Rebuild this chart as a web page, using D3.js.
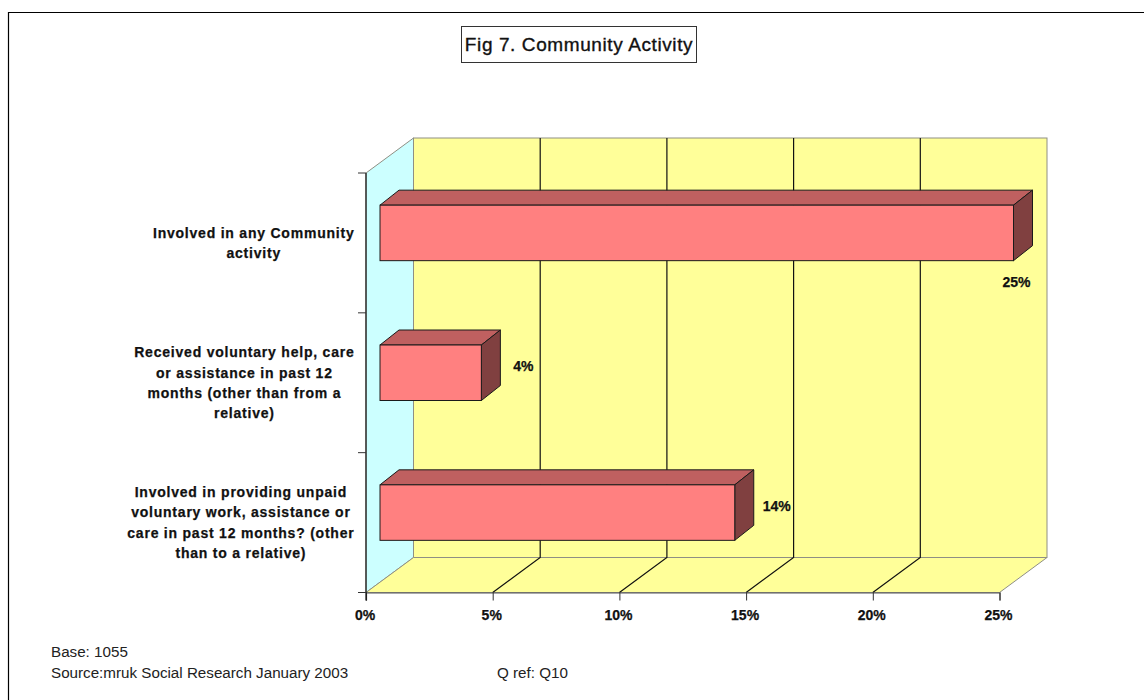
<!DOCTYPE html>
<html>
<head>
<meta charset="utf-8">
<script src="https://cdn.jsdelivr.net/npm/d3@7"></script>
<style>
  html, body { margin: 0; padding: 0; background: #fff; }
  svg { display: block; }
  text { font-family: "Liberation Sans", Arial, sans-serif; fill: #111; }
  .cat, .val, .tick-label { font-weight: bold; font-size: 14px; stroke: #111; stroke-width: 0.25px; }
  .cat { letter-spacing: 0.78px; }
  .note { font-size: 15.2px; fill: #222; }
</style>
</head>
<body>
<svg id="chart" width="1144" height="700"></svg>
<script>
// Survey results, in percent
const categories = [
  "Involved in any Community activity",
  "Received voluntary help, care or assistance in past 12 months (other than from a relative)",
  "Involved in providing unpaid voluntary work, assistance or care in past 12 months? (other than to a relative)"
];
const values = [25, 4, 14];
const categoryLines = [
  ["Involved in any Community", "activity"],
  ["Received voluntary help, care", "or assistance in past 12", "months (other than from a", "relative)"],
  ["Involved in providing unpaid", "voluntary work, assistance or", "care in past 12 months? (other", "than to a relative)"]
];
const xTicks = [0, 5, 10, 15, 20, 25];
const valueLabels = ["25%", "4%", "14%"];
const chartTitle = "Fig 7. Community Activity";
const footnotes = ["Base: 1055", "Source:mruk Social Research January 2003"];
const questionRef = "Q ref: Q10";

const svg = d3.select("#chart");

// Plot box with an oblique depth for the back walls
const plot = { left: 366, right: 999.5, top: 173, bottom: 592.5 };
const depth = { x: 47.5, y: -35 };
const barDepth = { x: 19, y: -15 };
const barInset = { x: 14, y: -10.5 };
const barHeight = 55.5;

const x = d3.scaleLinear().domain([0, 25]).range([plot.left, plot.right]);
const y = d3.scaleBand().domain(categories).range([plot.top, plot.bottom]);

const poly = pts => pts.map(p => p.join(",")).join(" ");
const wallStroke = "#8f8f84";

// Outer frame: top and left edges only
svg.append("path")
  .attr("d", "M8.5,700V12.5H1144")
  .attr("fill", "none").attr("stroke", "#000").attr("stroke-width", 1.2);

// Side wall
svg.append("polygon")
  .attr("points", poly([[plot.left, plot.top], [plot.left + depth.x, plot.top + depth.y],
    [plot.left + depth.x, plot.bottom + depth.y], [plot.left, plot.bottom]]))
  .attr("fill", "#ccffff").attr("stroke", wallStroke);

// Back wall
svg.append("rect")
  .attr("x", plot.left + depth.x).attr("y", plot.top + depth.y)
  .attr("width", plot.right - plot.left).attr("height", plot.bottom - plot.top)
  .attr("fill", "#ffff99").attr("stroke", wallStroke);

// Floor
svg.append("polygon")
  .attr("points", poly([[plot.left, plot.bottom], [plot.left + depth.x, plot.bottom + depth.y],
    [plot.right + depth.x, plot.bottom + depth.y], [plot.right, plot.bottom]]))
  .attr("fill", "#ffff99").attr("stroke", wallStroke);

// Gridlines run across the floor and up the back wall
svg.append("g").selectAll("path")
  .data(xTicks.slice(1, -1))
  .join("path")
  .attr("d", d => `M${x(d)},${plot.bottom}L${x(d) + depth.x},${plot.bottom + depth.y}V${plot.top + depth.y}`)
  .attr("fill", "none").attr("stroke", "#111").attr("stroke-width", 1.2);

// Bars, each with a front, top and side face
const bars = svg.append("g").selectAll("g")
  .data(categories.map((c, i) => ({ c, v: values[i], label: valueLabels[i], i })))
  .join("g");

const x0 = x(0) + barInset.x;
const barLeft = () => x0;
const barRight = d => x(d.v) + barInset.x;
const barTop = d => y(d.c) + y.bandwidth() / 2 + barInset.y - barHeight / 2 + 0.5;

bars.append("polygon")
  .attr("points", d => poly([[barLeft(), barTop(d)], [barLeft() + barDepth.x, barTop(d) + barDepth.y],
    [barRight(d) + barDepth.x, barTop(d) + barDepth.y], [barRight(d), barTop(d)]]))
  .attr("fill", "#bf6060").attr("stroke", "#1a1a1a").attr("stroke-linejoin", "round");

bars.append("polygon")
  .attr("points", d => poly([[barRight(d), barTop(d)], [barRight(d) + barDepth.x, barTop(d) + barDepth.y],
    [barRight(d) + barDepth.x, barTop(d) + barDepth.y + barHeight], [barRight(d), barTop(d) + barHeight]]))
  .attr("fill", "#804040").attr("stroke", "#1a1a1a").attr("stroke-linejoin", "round");

bars.append("rect")
  .attr("x", barLeft()).attr("y", barTop)
  .attr("width", d => barRight(d) - barLeft()).attr("height", barHeight)
  .attr("fill", "#ff8080").attr("stroke", "#1a1a1a");

// Value labels: the longest bar carries its label underneath
bars.append("text")
  .attr("class", "val")
  .attr("x", d => d.v === 25 ? barRight(d) + 3 : barRight(d) + 42)
  .attr("y", d => d.v === 25 ? barTop(d) + 82 : barTop(d) + 26)
  .attr("text-anchor", "middle")
  .text(d => d.label);

// X axis
const xAxis = svg.append("g")
  .attr("transform", `translate(0,${plot.bottom})`)
  .call(d3.axisBottom(x).tickValues(xTicks).tickFormat(d => d + "%").tickSize(8).tickPadding(10));
xAxis.select(".domain").attr("stroke", "#555").attr("stroke-width", 1.2);
xAxis.selectAll(".tick line").attr("stroke", "#333");
xAxis.selectAll(".tick text").attr("class", "tick-label").attr("fill", null).attr("dx", -1.5)
  .style("font-family", '"Liberation Sans", Arial, sans-serif');

// Category axis
svg.append("line")
  .attr("x1", plot.left).attr("x2", plot.left)
  .attr("y1", plot.top).attr("y2", plot.bottom + 8)
  .attr("stroke", "#111").attr("stroke-width", 1.2);
svg.append("g").selectAll("line")
  .data(categories.map(c => y(c)).concat(plot.bottom))
  .join("line")
  .attr("x1", plot.left - 8).attr("x2", plot.left)
  .attr("y1", d => d).attr("y2", d => d)
  .attr("stroke", "#333");

// Wrapped category labels: each centred block sits flush against the axis side
const lineHeight = 20.2;
const labelRight = 354.5;
const labels = svg.append("g").selectAll("text")
  .data(categories.map((c, i) => ({ c, lines: categoryLines[i] })))
  .join("text")
  .attr("class", "cat")
  .attr("text-anchor", "middle");
labels.selectAll("tspan")
  .data(d => d.lines.map((t, j) => ({
    t,
    y: y(d.c) + y.bandwidth() / 2 + 5 + (j - (d.lines.length - 1) / 2) * lineHeight
  })))
  .join("tspan")
  .attr("y", d => d.y)
  .text(d => d.t);
labels.each(function () {
  const spans = d3.select(this).selectAll("tspan");
  const widest = d3.max(spans.nodes(), n => n.getComputedTextLength());
  spans.attr("x", labelRight - widest / 2);
});

// Title box
const titleGroup = svg.append("g");
titleGroup.append("rect")
  .attr("x", 461.5).attr("y", 26.5).attr("width", 235).attr("height", 36)
  .attr("fill", "#fff").attr("stroke", "#333");
titleGroup.append("text")
  .attr("x", 579).attr("y", 51).attr("text-anchor", "middle")
  .attr("font-size", 19).attr("letter-spacing", 0.6)
  .attr("stroke", "#111").attr("stroke-width", 0.35)
  .text(chartTitle);

// Footnotes
svg.append("g").selectAll("text")
  .data(footnotes)
  .join("text")
  .attr("class", "note")
  .attr("x", 51).attr("y", (d, i) => 657 + i * 21)
  .text(d => d);
svg.append("text")
  .attr("class", "note")
  .attr("x", 497).attr("y", 678)
  .text(questionRef);
</script>
</body>
</html>
